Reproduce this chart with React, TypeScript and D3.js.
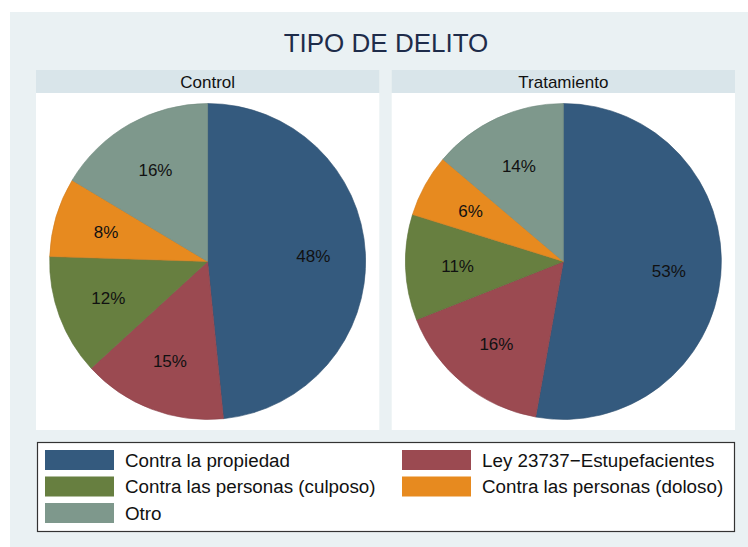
import React, { useEffect, useRef } from 'react';
import * as d3 from 'd3';

const categories = [
  'Contra la propiedad',
  'Ley 23737\u2212Estupefacientes',
  'Contra las personas (culposo)',
  'Contra las personas (doloso)',
  'Otro',
];
const groups = ['Control', 'Tratamiento'];
const controlPct = [48.4, 14.8, 12.3, 8.1, 16.4];
const tratamientoPct = [52.8, 16.2, 10.8, 6.4, 13.8];
const colors = ['#345A7E', '#9B4A51', '#677F40', '#E78A1F', '#7E988C'];

const App = () => {
  const ref = useRef(null);

  useEffect(() => {
    const svg = d3.select(ref.current);
    svg.selectAll('*').remove();

    const width = 748;
    const height = 547;
    svg.attr('width', width).attr('height', height);

    const font = 'Liberation Sans, Arial, Helvetica, sans-serif';

    // outer graph region
    svg.append('rect')
      .attr('x', 10).attr('y', 12)
      .attr('width', width - 10).attr('height', height - 12)
      .attr('fill', '#EAF1F3');

    svg.append('text')
      .attr('x', 386).attr('y', 51.5)
      .attr('text-anchor', 'middle')
      .attr('font-family', font)
      .attr('font-size', 26)
      .attr('fill', '#1E2C4A')
      .text('TIPO DE DELITO');

    const panelX = d3.scaleBand()
      .domain(groups)
      .range([36, 735])
      .paddingInner(0.035);

    const headerTop = 70;
    const headerBottom = 93;
    const plotBottom = 430;
    const radius = 158;

    const pie = d3.pie<number>().sort(null).value(d => d);
    const arc = d3.arc<d3.PieArcDatum<number>>().innerRadius(0).outerRadius(radius);
    const labelArc = d3.arc<d3.PieArcDatum<number>>()
      .innerRadius(radius * 0.67).outerRadius(radius * 0.67);

    const series = [controlPct, tratamientoPct];

    groups.forEach((g, i) => {
      const x0 = panelX(g);
      const bw = panelX.bandwidth();

      svg.append('rect')
        .attr('x', x0).attr('y', headerTop)
        .attr('width', bw).attr('height', headerBottom - headerTop)
        .attr('fill', '#D9E5EA');
      svg.append('text')
        .attr('x', x0 + bw / 2).attr('y', headerBottom - 5.5)
        .attr('text-anchor', 'middle')
        .attr('font-family', font)
        .attr('font-size', 17)
        .attr('fill', '#111')
        .text(g);

      svg.append('rect')
        .attr('x', x0).attr('y', headerBottom)
        .attr('width', bw).attr('height', plotBottom - headerBottom)
        .attr('fill', '#fff');

      const cx = x0 + bw / 2;
      const cy = (headerBottom + plotBottom) / 2;
      const gp = svg.append('g').attr('transform', `translate(${cx},${cy})`);
      const arcs = pie(series[i]);

      gp.selectAll('path')
        .data(arcs)
        .enter().append('path')
        .attr('d', arc)
        .attr('fill', (d, j) => colors[j])
        .attr('stroke', (d, j) => d3.color(colors[j]).darker(0.3).toString())
        .attr('stroke-width', 0.6);

      gp.selectAll('text')
        .data(arcs)
        .enter().append('text')
        .attr('transform', d => `translate(${labelArc.centroid(d)})`)
        .attr('text-anchor', 'middle')
        .attr('dy', '0.36em')
        .attr('font-family', font)
        .attr('font-size', 17)
        .attr('fill', '#111')
        .text(d => `${Math.round(d.data)}%`);
    });

    // legend
    const legend = svg.append('g');
    legend.append('rect')
      .attr('x', 37.5).attr('y', 442.5)
      .attr('width', 697).attr('height', 89)
      .attr('fill', '#fff')
      .attr('stroke', '#333')
      .attr('stroke-width', 1.2);

    const colX = [45, 402];
    const rowY = d3.scalePoint().domain(['0', '1', '2']).range([450, 503]);

    categories.forEach((c, k) => {
      const col = k % 2;
      const row = Math.floor(k / 2);
      const y = rowY(String(row));
      legend.append('rect')
        .attr('x', colX[col]).attr('y', y)
        .attr('width', 69).attr('height', 20)
        .attr('fill', colors[k]);
      legend.append('text')
        .attr('x', colX[col] + 80).attr('y', y + 16.5)
        .attr('font-family', font)
        .attr('font-size', 18.8)
        .attr('fill', '#111')
        .text(c);
    });
  }, []);

  return (
    <div style={{ position: 'absolute', left: 0, top: 0 }}>
      <svg ref={ref}></svg>
    </div>
  );
};

export default App;
